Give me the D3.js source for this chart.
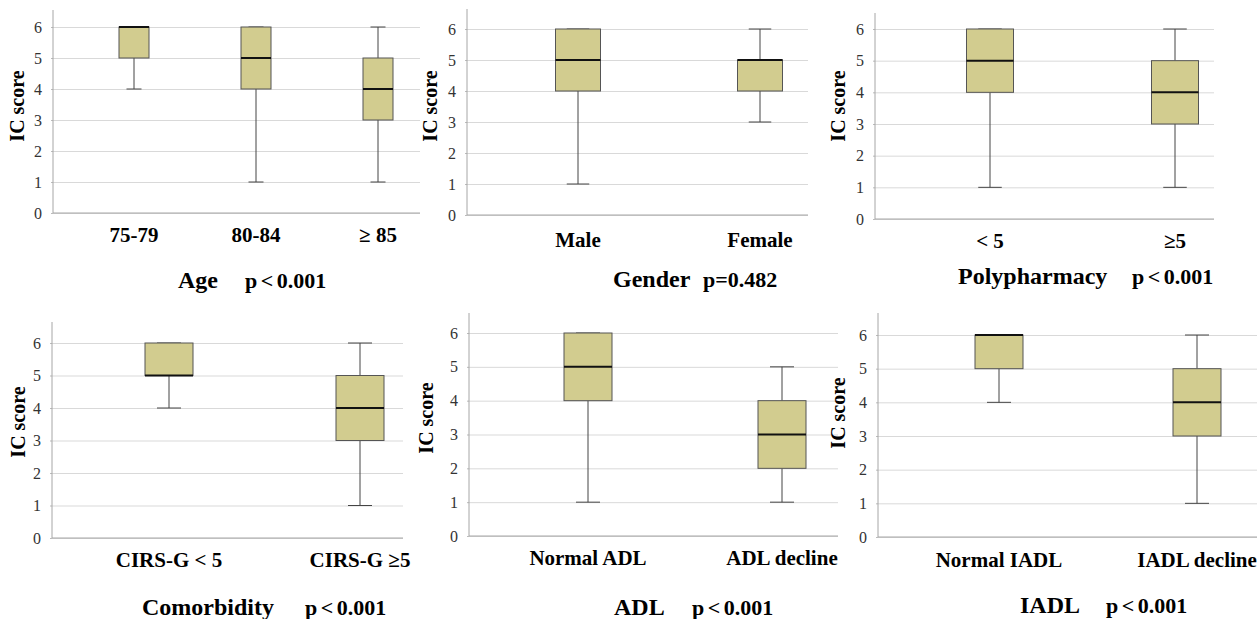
<!DOCTYPE html>
<html>
<head>
<meta charset="utf-8">
<script src="https://cdn.jsdelivr.net/npm/d3@7"></script>
<style>
  body { margin: 0; background: #fff; }
  svg { display: block; font-family: "Liberation Serif", "Times New Roman", serif; }
</style>
</head>
<body>
<svg id="fig" width="1257" height="619"></svg>
<script>
// box stats: [lower whisker, Q1, median, Q3, upper whisker]
var ageGroups = ["75-79", "80-84", "\u2265 85"];
var ageStats = [[4, 5, 6, 6, 6], [1, 4, 5, 6, 6], [1, 3, 4, 5, 6]];

var genderGroups = ["Male", "Female"];
var genderStats = [[1, 4, 5, 6, 6], [3, 4, 5, 5, 6]];

var polyGroups = ["< 5", "\u22655"];
var polyStats = [[1, 4, 5, 6, 6], [1, 3, 4, 5, 6]];

var cirsGroups = ["CIRS-G < 5", "CIRS-G \u22655"];
var cirsStats = [[4, 5, 5, 6, 6], [1, 3, 4, 5, 6]];

var adlGroups = ["Normal ADL", "ADL decline"];
var adlStats = [[1, 4, 5, 6, 6], [1, 2, 3, 4, 5]];

var iadlGroups = ["Normal IADL", "IADL decline"];
var iadlStats = [[4, 5, 6, 6, 6], [1, 3, 4, 5, 6]];

var yTicks = [0, 1, 2, 3, 4, 5, 6];
var panelNames = ["Age", "Gender", "Polypharmacy", "Comorbidity", "ADL", "IADL"];
var pValues = ["p < 0.001", "p=0.482", "p < 0.001", "p < 0.001", "p < 0.001", "p < 0.001"];
var yTitle = "IC score";

// where each small chart sits on the page
var panels = [
    {groups: ageGroups, stats: ageStats, left: 53, right: 420, top: 10, bottom: 213, y6: 27, c: [134, 378], boxW: 30, catY: 242, tx: 178, px: 245, ty: 288, lx: 17, ly: 106},
    {groups: genderGroups, stats: genderStats, left: 467, right: 808, top: 9, bottom: 215, y6: 29, c: [578, 760], boxW: 45, catY: 247, tx: 613, px: 703, ty: 287, lx: 430, ly: 106},
    {groups: polyGroups, stats: polyStats, left: 875, right: 1214, top: 13, bottom: 219, y6: 29, c: [990, 1175], boxW: 47, catY: 248, tx: 958, px: 1132, ty: 284, lx: 838, ly: 106},
    {groups: cirsGroups, stats: cirsStats, left: 52, right: 403, top: 322, bottom: 538, y6: 343, c: [169, 360], boxW: 48, catY: 567, tx: 142, px: 305, ty: 615, lx: 18, ly: 422},
    {groups: adlGroups, stats: adlStats, left: 469, right: 838, top: 313, bottom: 536, y6: 333, c: [588, 782], boxW: 48, catY: 565, tx: 614, px: 692, ty: 615, lx: 426, ly: 418},
    {groups: iadlGroups, stats: iadlStats, left: 878, right: 1257, top: 313, bottom: 537, y6: 335, c: [999, 1197], boxW: 48, catY: 567, tx: 1020, px: 1106, ty: 613, lx: 838, ly: 413}
];

var boxFill = "#d2cc8f";
var boxLine = "#444444";

var svg = d3.select("svg#fig");

panels.forEach(function (p, i) {
    let g = svg.append("g").attr("class", "panel");

    let y = d3.scaleLinear().domain([0, 6]).range([p.bottom, p.y6]);
    let x = d3.scalePoint().domain(p.groups).range(p.c);

    // gridlines
    let grid = d3.axisLeft(y).tickValues(yTicks).tickSize(-(p.right - p.left)).tickFormat("");
    let gridG = g.append("g").attr("transform", "translate(" + p.left + ",0)").call(grid);
    gridG.select(".domain").remove();
    gridG.selectAll("line").attr("stroke", "#d9d9d9").attr("stroke-width", 1);

    // tick labels
    let yAxis = d3.axisLeft(y).tickValues(yTicks).tickFormat(d3.format("d")).tickSize(2).tickPadding(9);
    let yG = g.append("g").attr("transform", "translate(" + p.left + ",0)").call(yAxis);
    yG.select(".domain").remove();
    yG.selectAll("line").attr("stroke", "#bbbbbb");
    yG.selectAll("text")
        .style("font-family", "'Liberation Serif', serif")
        .style("font-size", "16px")
        .attr("fill", "#333333");

    // axis lines
    g.append("line")
        .attr("x1", p.left).attr("x2", p.left)
        .attr("y1", p.top).attr("y2", p.bottom)
        .attr("stroke", "#a6a6a6");
    g.append("line")
        .attr("x1", p.left).attr("x2", p.right)
        .attr("y1", p.bottom).attr("y2", p.bottom)
        .attr("stroke", "#a6a6a6");

    let data = p.groups.map(function (k, j) { return {key: k, s: p.stats[j]}; });
    let half = p.boxW / 2;
    let cap = p.boxW / 4;

    let boxes = g.selectAll("g.box").data(data).enter().append("g").attr("class", "box");

    // whiskers
    boxes.append("line")
        .attr("x1", function (d) { return x(d.key); })
        .attr("x2", function (d) { return x(d.key); })
        .attr("y1", function (d) { return y(d.s[0]); })
        .attr("y2", function (d) { return y(d.s[1]); })
        .attr("stroke", boxLine);
    boxes.append("line")
        .attr("x1", function (d) { return x(d.key); })
        .attr("x2", function (d) { return x(d.key); })
        .attr("y1", function (d) { return y(d.s[3]); })
        .attr("y2", function (d) { return y(d.s[4]); })
        .attr("stroke", boxLine);
    [0, 4].forEach(function (k) {
        boxes.append("line")
            .attr("x1", function (d) { return x(d.key) - cap; })
            .attr("x2", function (d) { return x(d.key) + cap; })
            .attr("y1", function (d) { return y(d.s[k]); })
            .attr("y2", function (d) { return y(d.s[k]); })
            .attr("stroke", boxLine);
    });

    // box
    boxes.append("rect")
        .attr("x", function (d) { return x(d.key) - half; })
        .attr("width", p.boxW)
        .attr("y", function (d) { return y(d.s[3]); })
        .attr("height", function (d) { return y(d.s[1]) - y(d.s[3]); })
        .attr("fill", boxFill)
        .attr("stroke", "#555555")
        .attr("stroke-width", 1);

    // median
    boxes.append("line")
        .attr("x1", function (d) { return x(d.key) - half; })
        .attr("x2", function (d) { return x(d.key) + half; })
        .attr("y1", function (d) { return y(d.s[2]); })
        .attr("y2", function (d) { return y(d.s[2]); })
        .attr("stroke", "#111111")
        .attr("stroke-width", 2);

    // category labels
    g.selectAll("text.cat").data(p.groups).enter().append("text")
        .attr("class", "cat")
        .attr("x", function (d) { return x(d); })
        .attr("y", p.catY)
        .style("text-anchor", "middle")
        .style("font-size", "21px")
        .style("font-weight", "bold")
        .attr("fill", "#000")
        .text(function (d) { return d; });

    // y title
    g.append("text")
        .attr("transform", "translate(" + p.lx + "," + p.ly + ") rotate(-90)")
        .attr("dy", "0.35em")
        .style("text-anchor", "middle")
        .style("font-size", "20px")
        .style("font-weight", "bold")
        .text(yTitle);

    // panel title and p value
    g.append("text")
        .attr("x", p.tx).attr("y", p.ty)
        .style("font-size", "24px")
        .style("font-weight", "bold")
        .text(panelNames[i]);
    g.append("text")
        .attr("x", p.px).attr("y", p.ty)
        .style("font-size", "22px")
        .style("font-weight", "bold")
        .style("word-spacing", "-2px")
        .text(pValues[i]);
});
</script>
</body>
</html>
